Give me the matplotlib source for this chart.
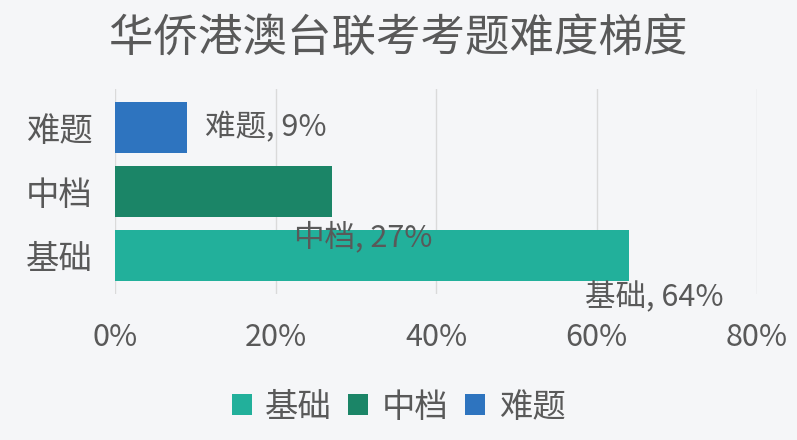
import matplotlib

matplotlib.use("Agg")

import matplotlib.pyplot as plt
from matplotlib.patches import Patch

plt.rcParams["font.family"] = ["Noto Sans CJK SC", "DejaVu Sans"]

title = "华侨港澳台联考考题难度梯度"
categories = ["基础", "中档", "难题"]
values = [64, 27, 9]
colors = ["#22B09B", "#1B8567", "#2E74BF"]
x_ticks = [0, 20, 40, 60, 80]
# label anchor (left edge in %, y in category units), mimicking the odd placement
label_pos = [(58.5, -0.66), (22.3, 0.29), (11.2, 2.0)]

text_color = "#595959"
bg = "#F5F6F8"

fig = plt.figure(figsize=(7.97, 4.40), dpi=100, facecolor=bg)
ax = fig.add_axes([0.1443, 0.332, 0.8057, 0.466], facecolor=bg)

y = list(range(len(categories)))
ax.barh(y, values, height=0.8, color=colors, zorder=3)

for (lx, ly), cat, v in zip(label_pos, categories, values):
    ax.text(lx, ly, f"{cat}, {v}%", ha="left", va="center",
            fontsize=22, color=text_color, zorder=4)

ax.set_xlim(0, 80)
ax.set_ylim(-0.6, 2.6)
ax.set_xticks(x_ticks)
ax.set_xticklabels([f"{t}%" for t in x_ticks])
ax.set_yticks(y)
ax.set_yticklabels(categories)
ax.tick_params(axis="both", length=0, labelcolor=text_color)
ax.tick_params(axis="x", pad=20, labelsize=22)
ax.tick_params(axis="y", pad=16, labelsize=24)
ax.grid(axis="x", color="#DADADA", linewidth=1, zorder=0)
for s in ax.spines.values():
    s.set_visible(False)

fig.text(0.5, 0.915, title, ha="center", va="center", fontsize=32,
         color=text_color)

handles = [Patch(facecolor=c, label=cat) for c, cat in zip(colors, categories)]
fig.legend(handles=handles, loc="center", bbox_to_anchor=(0.5, 0.075),
           ncol=3, frameon=False, fontsize=24, labelcolor=text_color,
           handlelength=0.6, handleheight=0.6, handletextpad=0.4,
           columnspacing=0.5)

fig.savefig("out.png", dpi=100, facecolor=bg)
plt.close(fig)
